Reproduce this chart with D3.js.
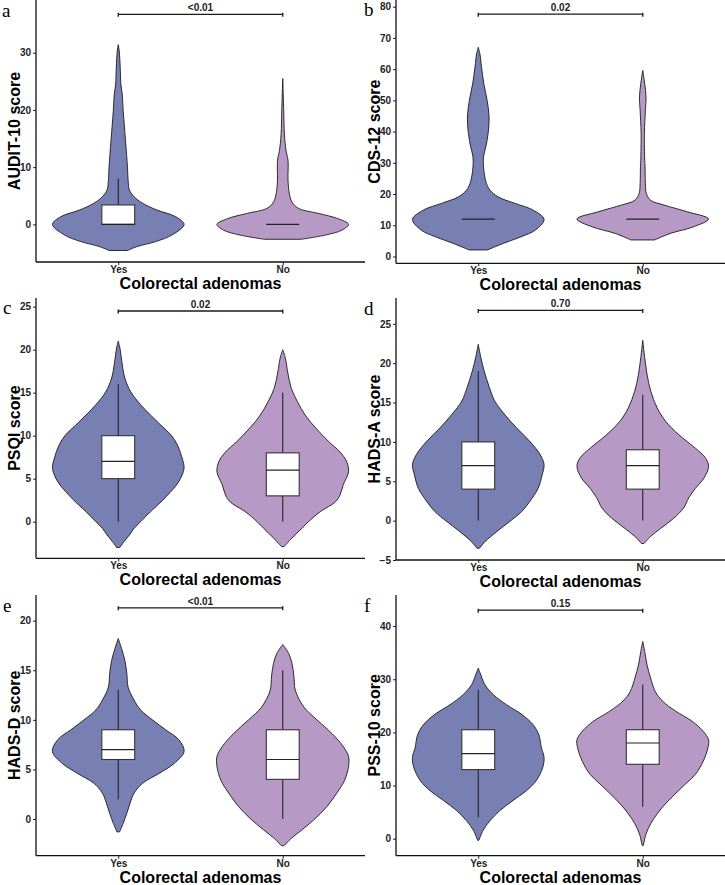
<!DOCTYPE html>
<html>
<head>
<meta charset="utf-8">
<script src="https://cdn.jsdelivr.net/npm/d3@7"></script>
<style>
  body { margin: 0; background: #fff; }
  svg { display: block; }
  .tick text { font-family: "Liberation Sans", Arial, sans-serif; font-weight: bold; font-size: 10px; fill: #222; }
</style>
</head>
<body>
<div id="my_dataviz"></div>
<script>
// chart values
var groups = ["Yes", "No"];
var panelLetters = ["a", "b", "c", "d", "e", "f"];
var yTitles = ["AUDIT-10 score", "CDS-12 score", "PSQI score", "HADS-A score", "HADS-D score", "PSS-10 score"];
var pLabels = ["<0.01", "0.02", "0.02", "0.70", "<0.01", "0.15"];
var sigY = [36.7, 77.6, 24.5, 26.7, 21.3, 43];
var yTicks = [
  [0, 10, 20, 30],
  [0, 10, 20, 30, 40, 50, 60, 70, 80],
  [0, 5, 10, 15, 20, 25],
  [-5, 0, 5, 10, 15, 20, 25],
  [0, 5, 10, 15, 20],
  [0, 10, 20, 30, 40]
];
// box stats: [min, q1, median, q3, max]
var boxYes = [[0, 0, 0, 3.4, 8], [12, 12, 12, 12, 12], [0, 5, 7, 10, 16], [0, 4, 7, 10, 19], [2, 6, 7, 9, 13], [4, 13, 16, 20.5, 28]];
var boxNo = [[0, 0, 0, 0, 0], [12, 12, 12, 12, 12], [0, 3, 6, 8, 15], [0, 4, 7, 9, 16], [0, 4, 6, 9, 15], [6, 14, 18, 20.5, 29]];
// violin outlines: [score, relative density]
var violinYes = [
  [[-4.56, 0.14], [-3.86, 0.29], [-3.0, 0.57], [-1.83, 0.82], [0, 1], [1.36, 0.87], [2.5, 0.59], [3.7, 0.37], [4.85, 0.24], [6.0, 0.17], [7.7, 0.15], [10, 0.14], [14.7, 0.11], [19.9, 0.075], [22.8, 0.06], [24.5, 0.04], [27.4, 0.03], [30.3, 0.015], [31.4, 0]],
  [[2.1, 0.14], [4.2, 0.38], [6.3, 0.65], [8.5, 0.87], [11.9, 1], [14.9, 0.83], [17, 0.56], [19.1, 0.3], [21.2, 0.18], [23.4, 0.125], [27.6, 0.085], [31.9, 0.08], [35.1, 0.115], [39.4, 0.15], [44.7, 0.165], [50, 0.135], [55.3, 0.085], [60.6, 0.05], [64.9, 0.025], [67, 0]],
  [[-3.0, 0.025], [-2.3, 0.09], [-1.55, 0.17], [-0.78, 0.24], [0, 0.34], [1.16, 0.49], [2.3, 0.65], [3.5, 0.8], [4.65, 0.92], [6.2, 1], [7.4, 0.97], [8.9, 0.9], [10.1, 0.8], [11.2, 0.65], [12.4, 0.49], [13.6, 0.34], [15.1, 0.19], [16.7, 0.1], [18.6, 0.055], [20.2, 0.025], [21, 0]],
  [[-3.5, 0.02], [-2.7, 0.1], [-1.4, 0.28], [-0.1, 0.48], [1.15, 0.66], [2.4, 0.78], [4.1, 0.91], [5.8, 0.97], [7.1, 1], [8.4, 0.94], [10.1, 0.78], [11.8, 0.58], [13.5, 0.4], [15.2, 0.25], [16.9, 0.17], [19, 0.09], [20.7, 0.04], [22.4, 0]],
  [[-1.3, 0.02], [-0.44, 0.075], [0.57, 0.13], [1.6, 0.18], [2.6, 0.24], [3.6, 0.37], [4.6, 0.62], [5.6, 0.85], [6.8, 1], [8.0, 0.92], [9.0, 0.72], [10, 0.52], [11, 0.34], [12, 0.24], [13.3, 0.15], [14.7, 0.13], [16, 0.1], [17.2, 0.05], [18.2, 0]],
  [[-0.3, 0.01], [1.6, 0.075], [3.4, 0.18], [5.3, 0.33], [7.2, 0.53], [9.0, 0.73], [10.9, 0.88], [13.4, 0.98], [15.3, 1], [17.1, 0.96], [19.6, 0.92], [21.5, 0.83], [23.4, 0.66], [25.2, 0.43], [27.1, 0.23], [29, 0.1], [30.8, 0.04], [32.1, 0]]
];
var violinNo = [
  [[-2.6, 0.28], [-1.86, 0.65], [-1.0, 0.9], [0, 1], [1.04, 0.83], [1.9, 0.55], [2.8, 0.24], [3.9, 0.14], [5.4, 0.1], [7.7, 0.08], [11.2, 0.08], [12.9, 0.05], [15.8, 0.025], [19.9, 0.015], [25.5, 0]],
  [[5.3, 0.18], [7.4, 0.42], [9.5, 0.77], [12, 1], [14.3, 0.68], [16.5, 0.32], [18, 0.12], [20.2, 0.055], [23.4, 0.04], [28.7, 0.035], [30.8, 0.03], [39.4, 0.025], [46.8, 0.04], [51, 0.05], [55.3, 0.03], [59.6, 0]],
  [[-2.9, 0.02], [-1.9, 0.14], [-0.78, 0.29], [0, 0.39], [1.16, 0.57], [2.3, 0.8], [3.1, 0.87], [4.3, 0.92], [5.8, 1], [7.0, 0.97], [8.1, 0.87], [9.3, 0.7], [10.9, 0.5], [12.4, 0.34], [14, 0.22], [15.5, 0.13], [17.4, 0.075], [19, 0.04], [20, 0]],
  [[-2.9, 0.02], [-2.0, 0.12], [-1.0, 0.27], [0.3, 0.47], [1.6, 0.62], [2.9, 0.7], [4.1, 0.8], [5.4, 0.93], [6.9, 1], [8, 0.95], [9.2, 0.8], [10.9, 0.55], [12.6, 0.35], [14.3, 0.22], [16.5, 0.12], [18.6, 0.065], [20.7, 0.03], [22.9, 0]],
  [[-2.7, 0.02], [-1.95, 0.13], [-1.1, 0.29], [-0.1, 0.47], [1.24, 0.67], [2.6, 0.82], [3.9, 0.94], [5.3, 1], [6.3, 1], [7.3, 0.92], [8.6, 0.75], [10, 0.52], [11.3, 0.32], [13, 0.19], [14.4, 0.17], [15.7, 0.14], [16.7, 0.09], [17.6, 0]],
  [[-1.25, 0.01], [0.9, 0.05], [2.8, 0.12], [4.7, 0.22], [6.5, 0.34], [8.4, 0.49], [10.3, 0.65], [12.1, 0.8], [14.6, 0.92], [17.1, 0.99], [18.6, 1], [20.2, 0.92], [22.1, 0.75], [24, 0.5], [25.9, 0.3], [27.7, 0.19], [30.2, 0.12], [32.7, 0.065], [35.2, 0.03], [37.1, 0]]
];

// panel placement
var layout = [
  {x0: 36,  top: 0,   bottom: 262,   dom: [-6.57, 39.21], lx: 2,   ly: 17},
  {x0: 396, top: 0,   bottom: 263.3, dom: [-2.18, 82.15], lx: 364, ly: 16},
  {x0: 36,  top: 298, bottom: 558.3, dom: [-4.26, 26.01], lx: 3,   ly: 314},
  {x0: 396, top: 298, bottom: 560,   dom: [-5.0, 28.28],  lx: 364, ly: 315},
  {x0: 36,  top: 595, bottom: 855.7, dom: [-3.70, 22.59], lx: 3,   ly: 612},
  {x0: 396, top: 595, bottom: 855.7, dom: [-3.2, 45.85],  lx: 364, ly: 612}
];
var fills = ["#7880b3", "#b799c5"];
var font = '"Liberation Sans", Arial, sans-serif';

var svg = d3.select("#my_dataviz")
  .append("svg")
    .attr("width", 725)
    .attr("height", 885);

layout.forEach(function(L, i) {
  var g = svg.append("g");

  var x = d3.scaleLinear().domain([0.5, 2.5]).range([L.x0, L.x0 + 329]);
  var y = d3.scaleLinear().domain(L.dom).range([L.bottom, L.top]);
  var hw = x(1.4) - x(1);      // violin half width (width 0.8)
  var bw = x(1.1) - x(1);      // box half width (width 0.2)

  // violins + boxes
  [violinYes[i], violinNo[i]].forEach(function(v, k) {
    var cx = x(k + 1);
    var area = d3.area()
      .curve(d3.curveCatmullRom.alpha(0.5))
      .y(function(d) { return y(d[0]); })
      .x0(function(d) { return cx - hw * d[1]; })
      .x1(function(d) { return cx + hw * d[1]; });
    g.append("path")
      .datum(v)
      .attr("d", area)
      .attr("fill", fills[k])
      .attr("stroke", "#1a1a1a")
      .attr("stroke-width", 0.9);

    var b = (k == 0 ? boxYes : boxNo)[i];
    // whiskers
    g.append("line")
      .attr("x1", cx).attr("x2", cx)
      .attr("y1", y(b[0])).attr("y2", y(b[4]))
      .attr("stroke", "#1a1a1a").attr("stroke-width", 1);
    g.append("rect")
      .attr("x", cx - bw).attr("width", 2 * bw)
      .attr("y", y(b[3])).attr("height", y(b[1]) - y(b[3]))
      .attr("fill", "white")
      .attr("stroke", "#333").attr("stroke-width", 1.1);
    g.append("line")
      .attr("x1", cx - bw).attr("x2", cx + bw)
      .attr("y1", y(b[2])).attr("y2", y(b[2]))
      .attr("stroke", "#222").attr("stroke-width", 1.2);
  });

  // y axis
  var ya = g.append("g")
    .attr("transform", "translate(" + L.x0 + ",0)")
    .call(d3.axisLeft(y).tickValues(yTicks[i]).tickSize(3).tickPadding(2).tickFormat(d3.format("d")));
  ya.select(".domain").remove();
  ya.selectAll(".tick line").attr("stroke", "#222").attr("stroke-width", 1);
  g.append("line")
    .attr("x1", L.x0).attr("x2", L.x0)
    .attr("y1", L.top).attr("y2", L.bottom)
    .attr("stroke", "#111").attr("stroke-width", 1.3);

  // x axis
  var xa = g.append("g")
    .attr("transform", "translate(0," + L.bottom + ")")
    .call(d3.axisBottom(x).tickValues([1, 2]).tickSize(3).tickPadding(1)
      .tickFormat(function(d) { return groups[d - 1]; }));
  xa.select(".domain").remove();
  xa.selectAll(".tick line").attr("stroke", "#222");
  g.append("line")
    .attr("x1", L.x0).attr("x2", L.x0 + 329)
    .attr("y1", L.bottom).attr("y2", L.bottom)
    .attr("stroke", "#111").attr("stroke-width", 1.3);

  // axis titles
  g.append("text")
    .attr("x", L.x0 + 164.5)
    .attr("y", L.bottom + 27)
    .attr("text-anchor", "middle")
    .style("font-family", font).style("font-weight", "bold").style("font-size", "16px")
    .text("Colorectal adenomas");
  g.append("text")
    .attr("transform", "translate(" + (L.x0 - 16) + "," + ((L.top + L.bottom) / 2) + ") rotate(-90)")
    .attr("text-anchor", "middle")
    .style("font-family", font).style("font-weight", "bold").style("font-size", "16px")
    .text(yTitles[i]);

  // significance bracket
  var sy = y(sigY[i]);
  g.append("path")
    .attr("d", "M" + x(1) + "," + (sy + 2.5) + "V" + (sy - 1.5) + "M" + x(1) + "," + sy + "H" + x(2) +
               "M" + x(2) + "," + (sy + 2.5) + "V" + (sy - 1.5))
    .attr("fill", "none")
    .attr("stroke", "#1a1a1a").attr("stroke-width", 1.3);
  g.append("text")
    .attr("x", (x(1) + x(2)) / 2)
    .attr("y", sy - 3)
    .attr("text-anchor", "middle")
    .style("font-family", font).style("font-weight", "bold").style("font-size", "10px")
    .style("fill", "#222")
    .text(pLabels[i]);

  // panel letter
  g.append("text")
    .attr("x", L.lx).attr("y", L.ly)
    .style("font-family", '"Liberation Serif", "Times New Roman", serif')
    .style("font-size", "19px")
    .text(panelLetters[i]);
});
</script>
</body>
</html>
